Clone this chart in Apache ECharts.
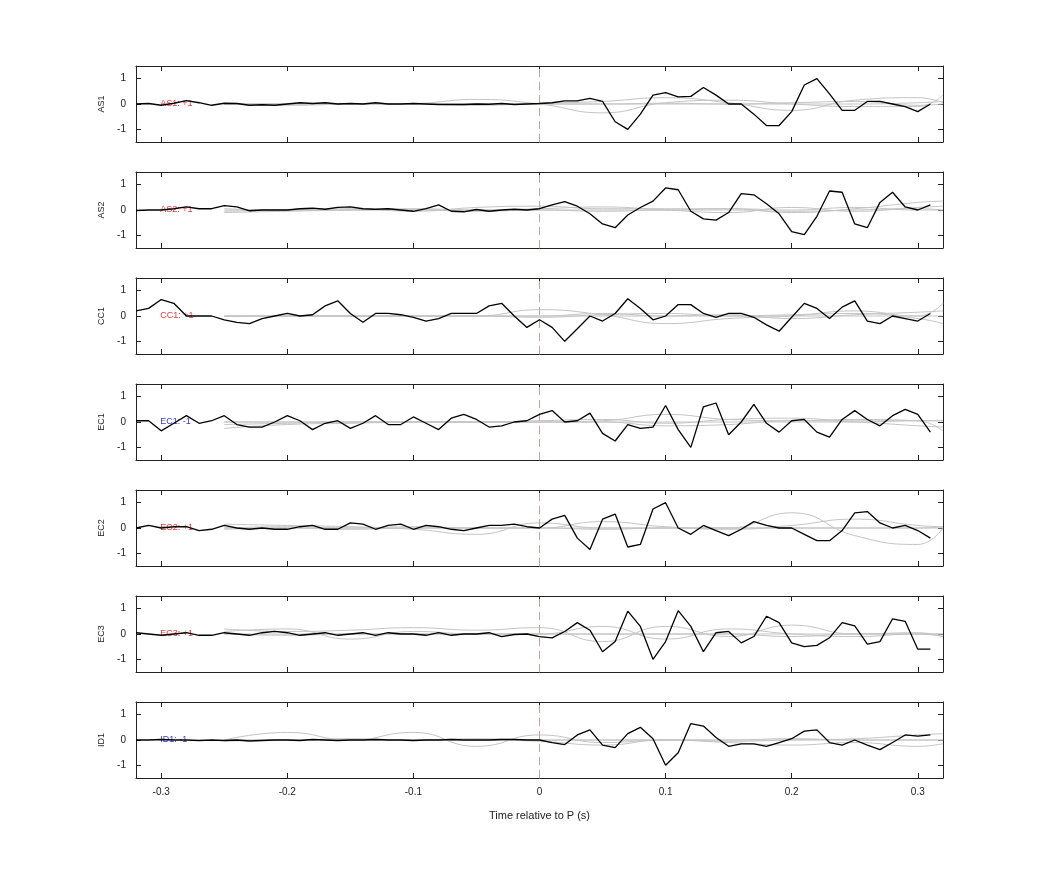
<!DOCTYPE html>
<html><head><meta charset="utf-8">
<script src="https://cdn.jsdelivr.net/npm/echarts@6/dist/echarts.min.js"></script>
<style>html,body{margin:0;padding:0;background:#fff}#c{width:1042px;height:875px}</style>
</head><body><div id="c"></div>
<script>
const stations = ["AS1","AS2","CC1","EC1","EC2","EC3","ID1"];
const polarity = ["+1","+1","+1","-1","+1","+1","-1"];
const times = [-0.32,-0.31,-0.30,-0.29,-0.28,-0.27,-0.26,-0.25,-0.24,-0.23,-0.22,-0.21,-0.20,-0.19,-0.18,-0.17,-0.16,-0.15,-0.14,-0.13,-0.12,-0.11,-0.10,-0.09,-0.08,-0.07,-0.06,-0.05,-0.04,-0.03,-0.02,-0.01,0.00,0.01,0.02,0.03,0.04,0.05,0.06,0.07,0.08,0.09,0.10,0.11,0.12,0.13,0.14,0.15,0.16,0.17,0.18,0.19,0.20,0.21,0.22,0.23,0.24,0.25,0.26,0.27,0.28,0.29,0.30,0.31];
const AS1 = [0,0.02,-0.05,0.03,0.13,0.05,-0.05,0.03,0.02,-0.05,-0.03,-0.05,0,0.05,0.02,0.05,0,0.02,0,0.05,0,0,0.02,0,-0.02,-0.02,-0.02,0,-0.01,0.02,-0.02,0,0.02,0.05,0.12,0.12,0.22,0.1,-0.7,-1.0,-0.4,0.35,0.45,0.28,0.3,0.65,0.35,0,0,-0.4,-0.85,-0.85,-0.3,0.75,1.0,0.4,-0.25,-0.25,0.1,0.1,0,-0.1,-0.3,0];
const AS2 = [-0.02,0,0,0.05,0.12,0.05,0.05,0.17,0.12,-0.03,0,0,0,0.05,0.07,0.03,0.1,0.12,0.05,0.03,0.05,0,-0.05,0.05,0.2,-0.05,-0.07,0.02,-0.05,0,0.03,0,0.05,0.2,0.33,0.15,-0.15,-0.55,-0.7,-0.2,0.1,0.35,0.87,0.8,-0.05,-0.35,-0.4,-0.1,0.65,0.6,0.25,-0.15,-0.85,-0.97,-0.25,0.75,0.7,-0.55,-0.7,0.3,0.7,0.12,0,0.2];
const CC1 = [0.2,0.3,0.65,0.5,0,0,0,-0.15,-0.25,-0.3,-0.1,0,0.1,0,0.05,0.4,0.6,0.1,-0.25,0.1,0.1,0.05,-0.05,-0.2,-0.1,0.1,0.1,0.1,0.4,0.5,0,-0.45,-0.15,-0.45,-1.0,-0.5,0,-0.2,0.1,0.68,0.3,-0.15,0,0.45,0.45,0.1,-0.05,0.1,0.1,-0.05,-0.35,-0.6,-0.05,0.5,0.3,-0.1,0.35,0.6,-0.2,-0.3,0,-0.1,-0.2,0.1];
const EC1 = [0.05,0.05,-0.35,-0.05,0.25,-0.05,0.05,0.25,-0.1,-0.2,-0.2,0,0.25,0.05,-0.3,-0.05,0.05,-0.25,-0.05,0.25,-0.1,-0.1,0.2,-0.05,-0.3,0.15,0.3,0.1,-0.2,-0.15,0,0.05,0.3,0.45,0,0.05,0.35,-0.45,-0.75,-0.1,-0.25,-0.2,0.65,-0.3,-1.0,0.6,0.75,-0.5,0,0.7,-0.05,-0.4,0.05,0.1,-0.4,-0.6,0.1,0.45,0.1,-0.15,0.25,0.5,0.3,-0.4];
const EC2 = [0,0.1,0,0.05,0.05,-0.1,-0.05,0.1,0,-0.05,0,-0.05,-0.05,0.05,0.1,-0.05,-0.05,0.2,0.15,-0.05,0.1,0.15,-0.05,0.1,0.05,-0.05,-0.1,0,0.1,0.1,0.15,0.05,0,0.35,0.5,-0.4,-0.85,0.35,0.55,-0.75,-0.65,0.75,1.0,0,-0.25,0.1,-0.1,-0.3,-0.05,0.25,0.1,0,0,-0.25,-0.5,-0.5,-0.1,0.6,0.65,0.2,0,0.1,-0.1,-0.4];
const EC3 = [0.05,0,-0.05,0,0.05,-0.05,-0.05,0.05,0,-0.05,0.05,0.1,0.05,-0.05,0,0.05,-0.05,0,0.05,-0.05,0.05,0,0,-0.05,0.05,-0.05,0,0,0.05,-0.1,-0.02,0,-0.1,-0.15,0.1,0.45,0.15,-0.7,-0.3,0.9,0.3,-1.0,-0.3,0.92,0.3,-0.7,0.05,0.1,-0.35,-0.1,0.7,0.45,-0.35,-0.5,-0.45,-0.15,0.45,0.32,-0.4,-0.3,0.6,0.5,-0.6,-0.6];
const ID1 = [0,0,0.02,0,0,-0.02,0,-0.02,0,-0.04,-0.02,0,0,-0.02,0.02,0,-0.02,0,0,0.02,0,0,-0.02,0,0,0.02,0,0,0,0.02,0.02,0,0,-0.1,-0.18,0.2,0.4,-0.2,-0.3,0.25,0.5,0.05,-1.0,-0.5,0.65,0.55,0.1,-0.25,-0.15,-0.15,-0.25,-0.1,0.05,0.35,0.4,-0.1,-0.2,0,-0.2,-0.38,-0.1,0.2,0.15,0.2];
const black = [AS1,AS2,CC1,EC1,EC2,EC3,ID1];
// gray synthetic traces, sampled every 0.05 s
const gTimes = [-0.25,-0.20,-0.15,-0.10,-0.05,0.00,0.05,0.10,0.15,0.20,0.25,0.30,0.32];
const grayAS1 = [[0,-0.05,0,0.02,0.18,0,-0.35,0.05,0.15,0,-0.1,-0.1,0.35],[0,0,0,0,-0.05,0.03,0.1,0.25,0.05,-0.25,0.15,0.25,0.05],[0,0,0,0,0,0,0,0,0,0,0,0.05,0.1],[0,0,0,0,0,0,0,0.03,0,0.05,0.1,-0.05,0]];
const grayAS2 = [[-0.05,0,0.05,-0.05,0.1,0.15,0.05,0.05,0.05,-0.1,0.05,0.3,0.35],[0.05,0,0,0.05,0,0.05,0.12,0,-0.1,0.1,-0.05,0.1,0.15],[-0.1,-0.05,0,0.02,-0.05,0,-0.05,0,0,-0.05,0,0.05,0],[0,0,0,0,0,0,0,0,0.05,0,0.1,0,0]];
const grayCC1 = [[0,0,0,0,0,0.25,0.05,-0.3,-0.1,0,0.2,0,0.5],[0,0,0,0,0,-0.05,0.05,0.1,0,0.05,0.1,-0.1,-0.3],[-0.02,0,0,0,0,0,0.1,0,0.05,-0.1,0.05,0.15,0.2],[0,0,0,0,0,0,0,0,0,0,0,0,0]];
const grayEC1 = [[-0.25,-0.1,-0.05,0,0,0,0.05,0.3,0.1,0.05,0.1,0.05,-0.35],[-0.1,-0.05,0,0,0,0.05,0.1,-0.05,0.1,0.15,0.05,0.05,0.05],[0,0,0,0,0,0,0,-0.15,-0.1,0.05,0,-0.15,-0.2],[0,0,0,0,0,0,0,0,0,0,0,0.05,0.05]];
const grayEC2 = [[0.15,0.1,0.05,-0.05,-0.25,0.2,0,0,0,0.6,-0.3,-0.65,0],[-0.05,0,-0.05,0,0,0,0.25,0.05,-0.05,0.1,0.35,0.1,0.05],[0,0.05,0,0.05,0,0,-0.05,0,0,0,0,0,0.05],[0,0,0,0,0,0,0,0,0,0,0,0,0]];
const grayEC3 = [[0.2,0.1,0.15,0.25,0.15,0.25,-0.3,0.3,-0.1,0.35,0,0.05,-0.1],[0.1,0.2,-0.2,0.1,0,0,0.3,-0.2,0.2,0,-0.1,0,-0.1],[0,-0.05,0,0,0,0,0,0,0,-0.1,0,0,0],[0,0,0,0,0,0,0,0,0,0,0,0,0]];
const grayID1 = [[0,0.3,0,0.3,-0.25,0.2,-0.1,0,-0.1,-0.2,-0.1,-0.25,-0.15],[0,0,0.05,0,0,-0.05,-0.2,0,-0.05,0,0.05,0.2,0.25],[-0.05,0,0,0,0.05,0,0,0,0,0.05,0,0,0],[0,0,0,0,0,0,0,0,0,0,0,0,0]];
const grays = [grayAS1,grayAS2,grayCC1,grayEC1,grayEC2,grayEC3,grayID1];
const xTicks = [-0.3,-0.2,-0.1,0,0.1,0.2,0.3];
const yTicks = [-1,0,1];

const chart = echarts.init(document.getElementById('c'));
const grid=[],xAxis=[],yAxis=[],series=[];
const lineC='#222';
stations.forEach((st,i)=>{
  const top=66+106*i;
  grid.push({left:136,right:99,top:top,height:76});
  const last = i===stations.length-1;
  const xa = (pos,show)=>({type:'value',gridIndex:i,position:pos,min:-0.32,max:0.32,
    axisLine:{show:true,onZero:false,lineStyle:{color:lineC}},
    axisTick:{show:true,inside:true,length:5,customValues:xTicks,lineStyle:{color:lineC}},
    axisLabel:{show:show,customValues:xTicks,color:'#222',fontSize:10,fontFamily:'Liberation Sans',margin:9},
    splitLine:{show:false},
    name: (show?'Time relative to P (s)':''),nameLocation:'middle',nameGap:32,
    nameTextStyle:{color:'#222',fontSize:11,fontFamily:'Liberation Sans'}});
  xAxis.push(xa('bottom',last)); xAxis.push(xa('top',false));
  const ya=(pos,show)=>({type:'value',gridIndex:i,position:pos,min:-1.5,max:1.5,
    axisLine:{show:true,onZero:false,lineStyle:{color:lineC}},
    axisTick:{show:true,inside:true,length:5,customValues:yTicks,lineStyle:{color:lineC}},
    axisLabel:{show:show,customValues:yTicks,color:'#222',fontSize:10,fontFamily:'Liberation Sans',margin:10},
    splitLine:{show:false},
    name:show?st:'',nameLocation:'middle',nameGap:28,nameRotate:90,
    nameTextStyle:{color:'#222',fontSize:9,fontFamily:'Liberation Sans'}});
  yAxis.push(ya('left',true)); yAxis.push(ya('right',false));
  grays[i].forEach(g=>{
    series.push({type:'line',xAxisIndex:2*i,yAxisIndex:2*i,smooth:0.5,symbol:'none',silent:true,
      data:gTimes.map((t,k)=>[t,g[k]]),lineStyle:{color:'#c4c4c4',width:1}});
  });
  const col = polarity[i]==='+1'?'#e00':'#00c';
  series.push({type:'scatter',xAxisIndex:2*i,yAxisIndex:2*i,symbolSize:2,silent:true,
    itemStyle:{color:'rgba(0,0,0,0)'},data:[[-0.3,0]],z:1,
    label:{show:true,formatter:st+': '+polarity[i],position:'right',distance:0,offset:[-2,0],color:col,fontSize:9,fontFamily:'Liberation Sans'}});
  series.push({type:'line',xAxisIndex:2*i,yAxisIndex:2*i,symbol:'none',silent:true,
    data:times.map((t,k)=>[t,black[i][k]]),lineStyle:{color:'#000',width:1.3},
    markLine:{silent:true,symbol:'none',label:{show:false},lineStyle:{color:'#c9a0a0',type:[8,5],width:1},data:[{xAxis:0}]},
    z:5});
});
chart.setOption({animation:false,backgroundColor:'#fff',grid,xAxis,yAxis,series});
</script></body></html>
